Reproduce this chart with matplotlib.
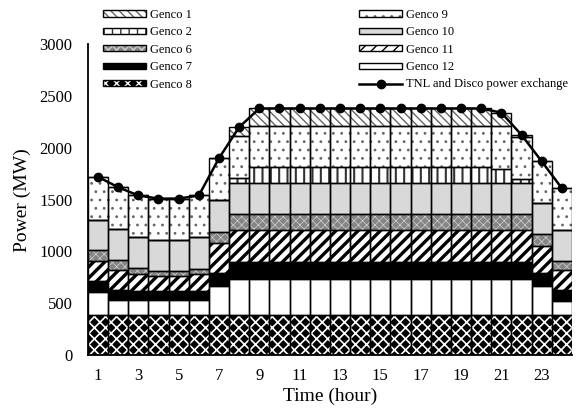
import matplotlib
matplotlib.use('Agg')
import matplotlib.pyplot as plt
from matplotlib.legend_handler import HandlerTuple

hours = list(range(1, 25))
xtick_labels = ['1', '3', '5', '7', '9', '11', '13', '15', '17', '19', '21', '23']
xtick_pos = [1, 3, 5, 7, 9, 11, 13, 15, 17, 19, 21, 23]

genco8 = [390, 390, 390, 390, 390, 390, 390, 390, 390, 390, 390, 390,
          390, 390, 390, 390, 390, 390, 390, 390, 390, 390, 390, 390]
genco12 = [220, 145, 145, 145, 145, 145, 280, 340, 340, 340, 340, 340,
           340, 340, 340, 340, 340, 340, 340, 340, 340, 340, 275, 135]
genco7 = [100, 95, 80, 80, 80, 80, 120, 170, 170, 170, 170, 170,
          170, 170, 170, 170, 170, 170, 170, 170, 170, 170, 130, 105]
genco11 = [195, 195, 170, 150, 150, 170, 290, 305, 305, 305, 305, 305,
           305, 305, 305, 305, 305, 305, 305, 305, 305, 305, 255, 195]
genco6 = [110, 95, 55, 50, 50, 50, 110, 160, 160, 160, 160, 160,
          160, 160, 160, 160, 160, 160, 160, 160, 160, 160, 115, 80]
genco10 = [290, 295, 300, 300, 300, 300, 305, 295, 295, 295, 295, 295,
           295, 295, 295, 295, 295, 295, 295, 295, 295, 295, 305, 305]
genco2 = [0, 0, 0, 0, 0, 0, 0, 50, 155, 155, 155, 155,
          155, 155, 155, 155, 155, 155, 155, 155, 140, 35, 0, 0]
genco9 = [415, 405, 400, 395, 395, 405, 405, 400, 400, 400, 400, 400,
          400, 400, 400, 400, 400, 400, 400, 400, 410, 405, 400, 400]
genco1 = [0, 0, 0, 0, 0, 0, 0, 90, 165, 165, 165, 165,
          165, 165, 165, 165, 165, 165, 165, 165, 130, 20, 0, 0]
exchange = [1720, 1620, 1540, 1510, 1510, 1540, 1900, 2200, 2380, 2380, 2380, 2380,
            2380, 2380, 2380, 2380, 2380, 2380, 2380, 2380, 2340, 2125, 1870, 1610]

plt.rcParams['font.family'] = ['Liberation Serif', 'DejaVu Serif']

# stacking order bottom -> top : (label, values, face, hatch, hatch colour, hatch lw)
stack = [
    ('Genco 8', genco8, 'black', 'xxx', 'white', 1.2),
    ('Genco 12', genco12, 'white', None, 'black', 1.0),
    ('Genco 7', genco7, 'black', None, 'black', 1.0),
    ('Genco 11', genco11, 'white', '///', 'black', 2.4),
    ('Genco 6', genco6, '#858585', 'xxxx', '#d0d0d0', 0.5),
    ('Genco 10', genco10, '#d9d9d9', None, 'black', 1.0),
    ('Genco 2', genco2, 'white', '||', '#333333', 1.5),
    ('Genco 9', genco9, 'white', '..', '#666666', 0.8),
    ('Genco 1', genco1, 'white', '\\\\\\\\', '#666666', 1.0),
]

fig = plt.figure(figsize=(5.86, 4.16), dpi=100)
ax = fig.add_axes([0.150, 0.1466, 0.826, 0.747])

handles = {}
bottom = [0] * 24
for label, vals, face, hatch, hcol, hlw in stack:
    with plt.rc_context({'hatch.linewidth': hlw}):
        b1 = ax.bar(hours, vals, width=1.0, bottom=bottom, color=face,
                    edgecolor=hcol, hatch=hatch, linewidth=0, zorder=2)
    b2 = ax.bar(hours, vals, width=1.0, bottom=bottom, facecolor='none',
                edgecolor='black', linewidth=1.0, zorder=3)
    handles[label] = (b1[0], b2[0])
    bottom = [a + b for a, b in zip(bottom, vals)]

line, = ax.plot(hours, exchange, color='black', lw=1.8, marker='o', ms=6,
                zorder=5, clip_on=False)

ax.set_xlim(0.5, 24.5)
ax.set_ylim(0, 3000)
ax.set_yticks([0, 500, 1000, 1500, 2000, 2500, 3000])
ax.set_xticks(xtick_pos)
ax.set_xticklabels(xtick_labels)
ax.tick_params(axis='both', length=0, labelsize=12)
ax.tick_params(axis='y', pad=11)
ax.tick_params(axis='x', pad=9)
for s in ['top', 'right']:
    ax.spines[s].set_visible(False)
ax.spines['left'].set_linewidth(1.3)
ax.spines['bottom'].set_linewidth(1.3)
ax.set_ylabel('Power (MW)', fontsize=14, labelpad=6)
ax.set_xlabel('Time (hour)', fontsize=14, labelpad=3)

order = ['Genco 1', 'Genco 2', 'Genco 6', 'Genco 7', 'Genco 8',
         'Genco 9', 'Genco 10', 'Genco 11', 'Genco 12']
hlist = [handles[k] for k in order] + [line]
llist = order + ['TNL and Disco power exchange']
fig.legend(hlist, llist, ncol=2, loc='upper left',
           bbox_to_anchor=(103 / 586, 1 - 9 / 416), frameon=False, fontsize=9,
           handlelength=3.4, handleheight=0.4, labelspacing=0.43,
           columnspacing=13.4, handletextpad=0.35, borderpad=0, borderaxespad=0,
           handler_map={tuple: HandlerTuple(ndivide=1)})

fig.savefig('out.png', dpi=100)
